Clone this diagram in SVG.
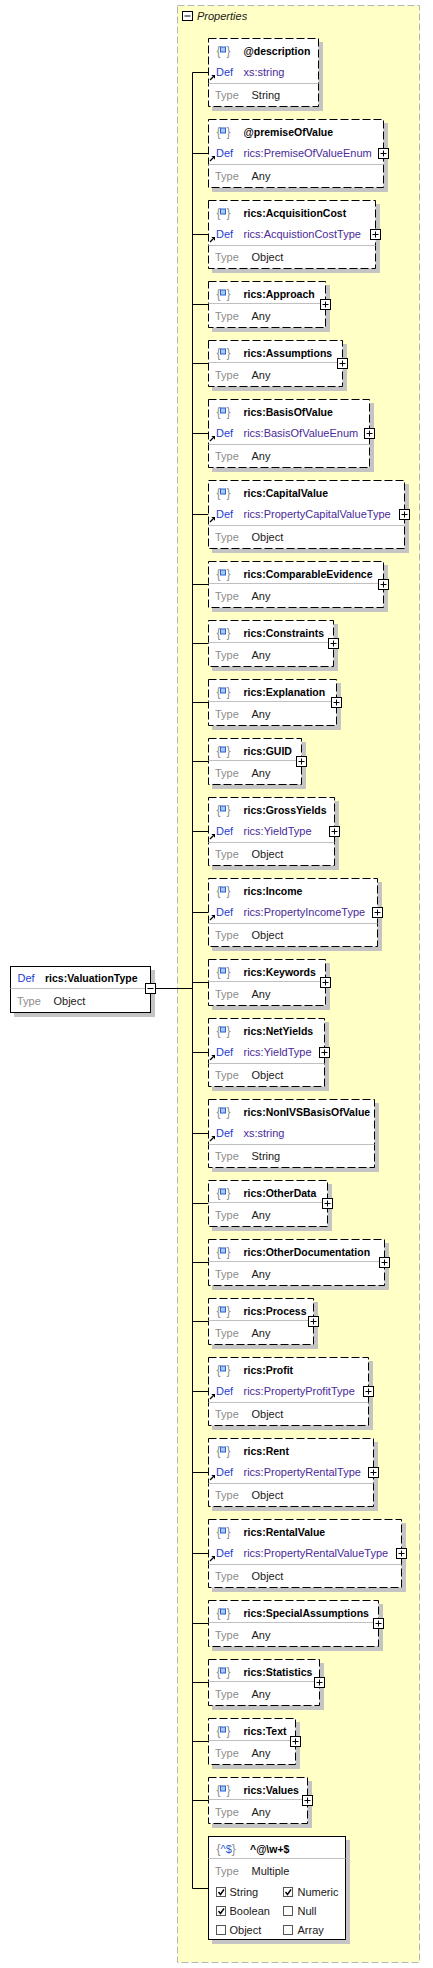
<svg xmlns="http://www.w3.org/2000/svg" xmlns:xlink="http://www.w3.org/1999/xlink" width="433" height="1968" viewBox="0 0 433 1968">
<style>
text{font-family:"Liberation Sans",Arial,sans-serif;font-size:11px}
.nm{font-weight:bold;font-size:10.5px;fill:#000}
.df{fill:#1e3cd2}
.rf{fill:#4a2a9a}
.tl{fill:#8c8c8c}
.tv{fill:#201818}
.br{fill:#8c8c8c;font-size:12px}
.sh{fill:#c4c4c4}
.bx{fill:#fff;stroke:#000;stroke-width:1}
.op{stroke-dasharray:8 3}
.sp{stroke:#c0c0c0;stroke-width:1}
.cn{stroke:#000;stroke-width:1;fill:none}
.cb{fill:#fff;stroke:#555;stroke-width:1}
.ck{fill:none;stroke:#000;stroke-width:1.4}
</style>
<defs>
<g id="plus"><rect x="0" y="0" width="10" height="10" fill="#fff" stroke="#000"/><path d="M2 5H8M5 2V8" stroke="#000" fill="none"/></g>
<g id="ico"><text class="br" x="8" y="16">{</text><rect x="12" y="8.5" width="5" height="5" fill="#a9c9f2" stroke="#2a62d0"/><text class="br" x="18" y="16">}</text></g>
<g id="arr"><path d="M1.5 7.5L4.5 4.5" stroke="#000" stroke-width="1.3"/><path d="M6.5 2.5L2.8 2.5L6.5 6.2Z" fill="#000"/></g>
</defs>

<g id="properties">
<rect x="177.5" y="5.5" width="242" height="1957" fill="#ffffc6" stroke="#b4b4b4" stroke-dasharray="7 3"/>
<rect x="182.5" y="11.5" width="10" height="9" fill="#fff" stroke="#000"/>
<path d="M184.5 16H190.5" stroke="#000"/>
<text x="197" y="20" font-style="italic" font-size="11.5" fill="#202020">Properties</text>
</g>

<g id="connectors" class="cn">
<path d="M155.5 988.5H192.5"/>
<path d="M192.5 72.5V1888.5"/>
<path d="M192.5 72.5H208.5M192.5 153.5H208.5M192.5 234.5H208.5M192.5 304.5H208.5M192.5 363.5H208.5M192.5 433.5H208.5M192.5 514.5H208.5M192.5 584.5H208.5M192.5 643.5H208.5M192.5 702.5H208.5M192.5 761.5H208.5M192.5 831.5H208.5M192.5 912.5H208.5M192.5 982.5H208.5M192.5 1052.5H208.5M192.5 1133.5H208.5M192.5 1203.5H208.5M192.5 1262.5H208.5M192.5 1321.5H208.5M192.5 1391.5H208.5M192.5 1472.5H208.5M192.5 1553.5H208.5M192.5 1623.5H208.5M192.5 1682.5H208.5M192.5 1741.5H208.5M192.5 1800.5H208.5M192.5 1888.5H208.5"/>
</g>

<g id="valuationType" transform="translate(10.5,966.5)">
<rect class="sh" x="3.5" y="3.5" width="141" height="47"/>
<rect class="bx" x="0" y="0" width="140" height="46"/>
<line class="sp" x1="0" y1="22" x2="140" y2="22"/>
<text class="df" x="7" y="15">Def</text>
<text class="nm" x="34.5" y="15.5">rics:ValuationType</text>
<text class="tl" x="6.5" y="38">Type</text>
<text class="tv" x="43" y="38">Object</text>
<rect x="135" y="17" width="10" height="10" fill="#fff" stroke="#000"/>
<path d="M137 22H143" stroke="#000"/>
</g>

<g id="p-description" transform="translate(208.5,38.5)">
<rect class="sh" x="3.5" y="3.5" width="111" height="69"/>
<rect class="bx op" width="110" height="68"/>
<use xlink:href="#ico"/><text class="nm" x="35" y="16.5">@description</text>
<use xlink:href="#arr" y="34"/><text class="df" x="7.5" y="37.5">Def</text><text class="rf" x="35" y="37.5">xs:string</text>
<line class="sp" x1="0" y1="45" x2="110" y2="45"/>
<text class="tl" x="6.5" y="60.5">Type</text><text class="tv" x="43" y="60.5">String</text>
</g>

<g id="p-premiseOfValue" transform="translate(208.5,119.5)">
<rect class="sh" x="3.5" y="3.5" width="176" height="69"/>
<rect class="bx op" width="175" height="68"/>
<use xlink:href="#ico"/><text class="nm" x="35" y="16.5">@premiseOfValue</text>
<use xlink:href="#arr" y="34"/><text class="df" x="7.5" y="37.5">Def</text><text class="rf" x="35" y="37.5">rics:PremiseOfValueEnum</text>
<line class="sp" x1="0" y1="45" x2="175" y2="45"/>
<text class="tl" x="6.5" y="60.5">Type</text><text class="tv" x="43" y="60.5">Any</text>
<use xlink:href="#plus" x="170" y="29"/>
</g>

<g id="p-AcquisitionCost" transform="translate(208.5,200.5)">
<rect class="sh" x="3.5" y="3.5" width="168" height="69"/>
<rect class="bx op" width="167" height="68"/>
<use xlink:href="#ico"/><text class="nm" x="35" y="16.5">rics:AcquisitionCost</text>
<use xlink:href="#arr" y="34"/><text class="df" x="7.5" y="37.5">Def</text><text class="rf" x="35" y="37.5">rics:AcquistionCostType</text>
<line class="sp" x1="0" y1="45" x2="167" y2="45"/>
<text class="tl" x="6.5" y="60.5">Type</text><text class="tv" x="43" y="60.5">Object</text>
<use xlink:href="#plus" x="162" y="29"/>
</g>

<g id="p-Approach" transform="translate(208.5,281.5)">
<rect class="sh" x="3.5" y="3.5" width="118" height="47"/>
<rect class="bx op" width="117" height="46"/>
<use xlink:href="#ico"/><text class="nm" x="35" y="16.5">rics:Approach</text>
<line class="sp" x1="0" y1="22" x2="117" y2="22"/>
<text class="tl" x="6.5" y="38.5">Type</text><text class="tv" x="43" y="38.5">Any</text>
<use xlink:href="#plus" x="112" y="18"/>
</g>

<g id="p-Assumptions" transform="translate(208.5,340.5)">
<rect class="sh" x="3.5" y="3.5" width="135" height="47"/>
<rect class="bx op" width="134" height="46"/>
<use xlink:href="#ico"/><text class="nm" x="35" y="16.5">rics:Assumptions</text>
<line class="sp" x1="0" y1="22" x2="134" y2="22"/>
<text class="tl" x="6.5" y="38.5">Type</text><text class="tv" x="43" y="38.5">Any</text>
<use xlink:href="#plus" x="129" y="18"/>
</g>

<g id="p-BasisOfValue" transform="translate(208.5,399.5)">
<rect class="sh" x="3.5" y="3.5" width="162" height="69"/>
<rect class="bx op" width="161" height="68"/>
<use xlink:href="#ico"/><text class="nm" x="35" y="16.5">rics:BasisOfValue</text>
<use xlink:href="#arr" y="34"/><text class="df" x="7.5" y="37.5">Def</text><text class="rf" x="35" y="37.5">rics:BasisOfValueEnum</text>
<line class="sp" x1="0" y1="45" x2="161" y2="45"/>
<text class="tl" x="6.5" y="60.5">Type</text><text class="tv" x="43" y="60.5">Any</text>
<use xlink:href="#plus" x="156" y="29"/>
</g>

<g id="p-CapitalValue" transform="translate(208.5,480.5)">
<rect class="sh" x="3.5" y="3.5" width="197" height="69"/>
<rect class="bx op" width="196" height="68"/>
<use xlink:href="#ico"/><text class="nm" x="35" y="16.5">rics:CapitalValue</text>
<use xlink:href="#arr" y="34"/><text class="df" x="7.5" y="37.5">Def</text><text class="rf" x="35" y="37.5">rics:PropertyCapitalValueType</text>
<line class="sp" x1="0" y1="45" x2="196" y2="45"/>
<text class="tl" x="6.5" y="60.5">Type</text><text class="tv" x="43" y="60.5">Object</text>
<use xlink:href="#plus" x="191" y="29"/>
</g>

<g id="p-ComparableEvidence" transform="translate(208.5,561.5)">
<rect class="sh" x="3.5" y="3.5" width="176" height="47"/>
<rect class="bx op" width="175" height="46"/>
<use xlink:href="#ico"/><text class="nm" x="35" y="16.5">rics:ComparableEvidence</text>
<line class="sp" x1="0" y1="22" x2="175" y2="22"/>
<text class="tl" x="6.5" y="38.5">Type</text><text class="tv" x="43" y="38.5">Any</text>
<use xlink:href="#plus" x="170" y="18"/>
</g>

<g id="p-Constraints" transform="translate(208.5,620.5)">
<rect class="sh" x="3.5" y="3.5" width="126" height="47"/>
<rect class="bx op" width="125" height="46"/>
<use xlink:href="#ico"/><text class="nm" x="35" y="16.5">rics:Constraints</text>
<line class="sp" x1="0" y1="22" x2="125" y2="22"/>
<text class="tl" x="6.5" y="38.5">Type</text><text class="tv" x="43" y="38.5">Any</text>
<use xlink:href="#plus" x="120" y="18"/>
</g>

<g id="p-Explanation" transform="translate(208.5,679.5)">
<rect class="sh" x="3.5" y="3.5" width="129" height="47"/>
<rect class="bx op" width="128" height="46"/>
<use xlink:href="#ico"/><text class="nm" x="35" y="16.5">rics:Explanation</text>
<line class="sp" x1="0" y1="22" x2="128" y2="22"/>
<text class="tl" x="6.5" y="38.5">Type</text><text class="tv" x="43" y="38.5">Any</text>
<use xlink:href="#plus" x="123" y="18"/>
</g>

<g id="p-GUID" transform="translate(208.5,738.5)">
<rect class="sh" x="3.5" y="3.5" width="94" height="47"/>
<rect class="bx op" width="93" height="46"/>
<use xlink:href="#ico"/><text class="nm" x="35" y="16.5">rics:GUID</text>
<line class="sp" x1="0" y1="22" x2="93" y2="22"/>
<text class="tl" x="6.5" y="38.5">Type</text><text class="tv" x="43" y="38.5">Any</text>
<use xlink:href="#plus" x="88" y="18"/>
</g>

<g id="p-GrossYields" transform="translate(208.5,797.5)">
<rect class="sh" x="3.5" y="3.5" width="127" height="69"/>
<rect class="bx op" width="126" height="68"/>
<use xlink:href="#ico"/><text class="nm" x="35" y="16.5">rics:GrossYields</text>
<use xlink:href="#arr" y="34"/><text class="df" x="7.5" y="37.5">Def</text><text class="rf" x="35" y="37.5">rics:YieldType</text>
<line class="sp" x1="0" y1="45" x2="126" y2="45"/>
<text class="tl" x="6.5" y="60.5">Type</text><text class="tv" x="43" y="60.5">Object</text>
<use xlink:href="#plus" x="121" y="29"/>
</g>

<g id="p-Income" transform="translate(208.5,878.5)">
<rect class="sh" x="3.5" y="3.5" width="170" height="69"/>
<rect class="bx op" width="169" height="68"/>
<use xlink:href="#ico"/><text class="nm" x="35" y="16.5">rics:Income</text>
<use xlink:href="#arr" y="34"/><text class="df" x="7.5" y="37.5">Def</text><text class="rf" x="35" y="37.5">rics:PropertyIncomeType</text>
<line class="sp" x1="0" y1="45" x2="169" y2="45"/>
<text class="tl" x="6.5" y="60.5">Type</text><text class="tv" x="43" y="60.5">Object</text>
<use xlink:href="#plus" x="164" y="29"/>
</g>

<g id="p-Keywords" transform="translate(208.5,959.5)">
<rect class="sh" x="3.5" y="3.5" width="118" height="47"/>
<rect class="bx op" width="117" height="46"/>
<use xlink:href="#ico"/><text class="nm" x="35" y="16.5">rics:Keywords</text>
<line class="sp" x1="0" y1="22" x2="117" y2="22"/>
<text class="tl" x="6.5" y="38.5">Type</text><text class="tv" x="43" y="38.5">Any</text>
<use xlink:href="#plus" x="112" y="18"/>
</g>

<g id="p-NetYields" transform="translate(208.5,1018.5)">
<rect class="sh" x="3.5" y="3.5" width="117" height="69"/>
<rect class="bx op" width="116" height="68"/>
<use xlink:href="#ico"/><text class="nm" x="35" y="16.5">rics:NetYields</text>
<use xlink:href="#arr" y="34"/><text class="df" x="7.5" y="37.5">Def</text><text class="rf" x="35" y="37.5">rics:YieldType</text>
<line class="sp" x1="0" y1="45" x2="116" y2="45"/>
<text class="tl" x="6.5" y="60.5">Type</text><text class="tv" x="43" y="60.5">Object</text>
<use xlink:href="#plus" x="111" y="29"/>
</g>

<g id="p-NonIVSBasisOfValue" transform="translate(208.5,1099.5)">
<rect class="sh" x="3.5" y="3.5" width="167" height="69"/>
<rect class="bx op" width="166" height="68"/>
<use xlink:href="#ico"/><text class="nm" x="35" y="16.5">rics:NonIVSBasisOfValue</text>
<use xlink:href="#arr" y="34"/><text class="df" x="7.5" y="37.5">Def</text><text class="rf" x="35" y="37.5">xs:string</text>
<line class="sp" x1="0" y1="45" x2="166" y2="45"/>
<text class="tl" x="6.5" y="60.5">Type</text><text class="tv" x="43" y="60.5">String</text>
</g>

<g id="p-OtherData" transform="translate(208.5,1180.5)">
<rect class="sh" x="3.5" y="3.5" width="120" height="47"/>
<rect class="bx op" width="119" height="46"/>
<use xlink:href="#ico"/><text class="nm" x="35" y="16.5">rics:OtherData</text>
<line class="sp" x1="0" y1="22" x2="119" y2="22"/>
<text class="tl" x="6.5" y="38.5">Type</text><text class="tv" x="43" y="38.5">Any</text>
<use xlink:href="#plus" x="114" y="18"/>
</g>

<g id="p-OtherDocumentation" transform="translate(208.5,1239.5)">
<rect class="sh" x="3.5" y="3.5" width="177" height="47"/>
<rect class="bx op" width="176" height="46"/>
<use xlink:href="#ico"/><text class="nm" x="35" y="16.5">rics:OtherDocumentation</text>
<line class="sp" x1="0" y1="22" x2="176" y2="22"/>
<text class="tl" x="6.5" y="38.5">Type</text><text class="tv" x="43" y="38.5">Any</text>
<use xlink:href="#plus" x="171" y="18"/>
</g>

<g id="p-Process" transform="translate(208.5,1298.5)">
<rect class="sh" x="3.5" y="3.5" width="106" height="47"/>
<rect class="bx op" width="105" height="46"/>
<use xlink:href="#ico"/><text class="nm" x="35" y="16.5">rics:Process</text>
<line class="sp" x1="0" y1="22" x2="105" y2="22"/>
<text class="tl" x="6.5" y="38.5">Type</text><text class="tv" x="43" y="38.5">Any</text>
<use xlink:href="#plus" x="100" y="18"/>
</g>

<g id="p-Profit" transform="translate(208.5,1357.5)">
<rect class="sh" x="3.5" y="3.5" width="161" height="69"/>
<rect class="bx op" width="160" height="68"/>
<use xlink:href="#ico"/><text class="nm" x="35" y="16.5">rics:Profit</text>
<use xlink:href="#arr" y="34"/><text class="df" x="7.5" y="37.5">Def</text><text class="rf" x="35" y="37.5">rics:PropertyProfitType</text>
<line class="sp" x1="0" y1="45" x2="160" y2="45"/>
<text class="tl" x="6.5" y="60.5">Type</text><text class="tv" x="43" y="60.5">Object</text>
<use xlink:href="#plus" x="155" y="29"/>
</g>

<g id="p-Rent" transform="translate(208.5,1438.5)">
<rect class="sh" x="3.5" y="3.5" width="166" height="69"/>
<rect class="bx op" width="165" height="68"/>
<use xlink:href="#ico"/><text class="nm" x="35" y="16.5">rics:Rent</text>
<use xlink:href="#arr" y="34"/><text class="df" x="7.5" y="37.5">Def</text><text class="rf" x="35" y="37.5">rics:PropertyRentalType</text>
<line class="sp" x1="0" y1="45" x2="165" y2="45"/>
<text class="tl" x="6.5" y="60.5">Type</text><text class="tv" x="43" y="60.5">Object</text>
<use xlink:href="#plus" x="160" y="29"/>
</g>

<g id="p-RentalValue" transform="translate(208.5,1519.5)">
<rect class="sh" x="3.5" y="3.5" width="194" height="69"/>
<rect class="bx op" width="193" height="68"/>
<use xlink:href="#ico"/><text class="nm" x="35" y="16.5">rics:RentalValue</text>
<use xlink:href="#arr" y="34"/><text class="df" x="7.5" y="37.5">Def</text><text class="rf" x="35" y="37.5">rics:PropertyRentalValueType</text>
<line class="sp" x1="0" y1="45" x2="193" y2="45"/>
<text class="tl" x="6.5" y="60.5">Type</text><text class="tv" x="43" y="60.5">Object</text>
<use xlink:href="#plus" x="188" y="29"/>
</g>

<g id="p-SpecialAssumptions" transform="translate(208.5,1600.5)">
<rect class="sh" x="3.5" y="3.5" width="171" height="47"/>
<rect class="bx op" width="170" height="46"/>
<use xlink:href="#ico"/><text class="nm" x="35" y="16.5">rics:SpecialAssumptions</text>
<line class="sp" x1="0" y1="22" x2="170" y2="22"/>
<text class="tl" x="6.5" y="38.5">Type</text><text class="tv" x="43" y="38.5">Any</text>
<use xlink:href="#plus" x="165" y="18"/>
</g>

<g id="p-Statistics" transform="translate(208.5,1659.5)">
<rect class="sh" x="3.5" y="3.5" width="112" height="47"/>
<rect class="bx op" width="111" height="46"/>
<use xlink:href="#ico"/><text class="nm" x="35" y="16.5">rics:Statistics</text>
<line class="sp" x1="0" y1="22" x2="111" y2="22"/>
<text class="tl" x="6.5" y="38.5">Type</text><text class="tv" x="43" y="38.5">Any</text>
<use xlink:href="#plus" x="106" y="18"/>
</g>

<g id="p-Text" transform="translate(208.5,1718.5)">
<rect class="sh" x="3.5" y="3.5" width="88" height="47"/>
<rect class="bx op" width="87" height="46"/>
<use xlink:href="#ico"/><text class="nm" x="35" y="16.5">rics:Text</text>
<line class="sp" x1="0" y1="22" x2="87" y2="22"/>
<text class="tl" x="6.5" y="38.5">Type</text><text class="tv" x="43" y="38.5">Any</text>
<use xlink:href="#plus" x="82" y="18"/>
</g>

<g id="p-Values" transform="translate(208.5,1777.5)">
<rect class="sh" x="3.5" y="3.5" width="100" height="47"/>
<rect class="bx op" width="99" height="46"/>
<use xlink:href="#ico"/><text class="nm" x="35" y="16.5">rics:Values</text>
<line class="sp" x1="0" y1="22" x2="99" y2="22"/>
<text class="tl" x="6.5" y="38.5">Type</text><text class="tv" x="43" y="38.5">Any</text>
<use xlink:href="#plus" x="94" y="18"/>
</g>

<g id="p-pattern" transform="translate(208.5,1836.5)">
<rect class="sh" x="3.5" y="3.5" width="138" height="104"/>
<rect class="bx" width="137" height="103"/>
<text x="8" y="16"><tspan class="br">{</tspan><tspan fill="#2a5ad0">^$</tspan><tspan class="br">}</tspan></text>
<text class="nm" x="41.5" y="16.5">^@\w+$</text>
<line class="sp" x1="0" y1="22" x2="137" y2="22"/>
<text class="tl" x="6.5" y="38.5">Type</text><text class="tv" x="43" y="38.5">Multiple</text>
<rect class="cb" x="8" y="51" width="9" height="9"/><path class="ck" d="M10 55.5L12 58L15.5 53"/><text class="tv" x="21" y="59.5">String</text>
<rect class="cb" x="75" y="51" width="9" height="9"/><path class="ck" d="M77 55.5L79 58L82.5 53"/><text class="tv" x="89" y="59.5">Numeric</text>
<rect class="cb" x="8" y="70" width="9" height="9"/><path class="ck" d="M10 74.5L12 77L15.5 72"/><text class="tv" x="21" y="78.5">Boolean</text>
<rect class="cb" x="75" y="70" width="9" height="9"/><text class="tv" x="89" y="78.5">Null</text>
<rect class="cb" x="8" y="89" width="9" height="9"/><text class="tv" x="21" y="97.5">Object</text>
<rect class="cb" x="75" y="89" width="9" height="9"/><text class="tv" x="89" y="97.5">Array</text>
</g>
</svg>
